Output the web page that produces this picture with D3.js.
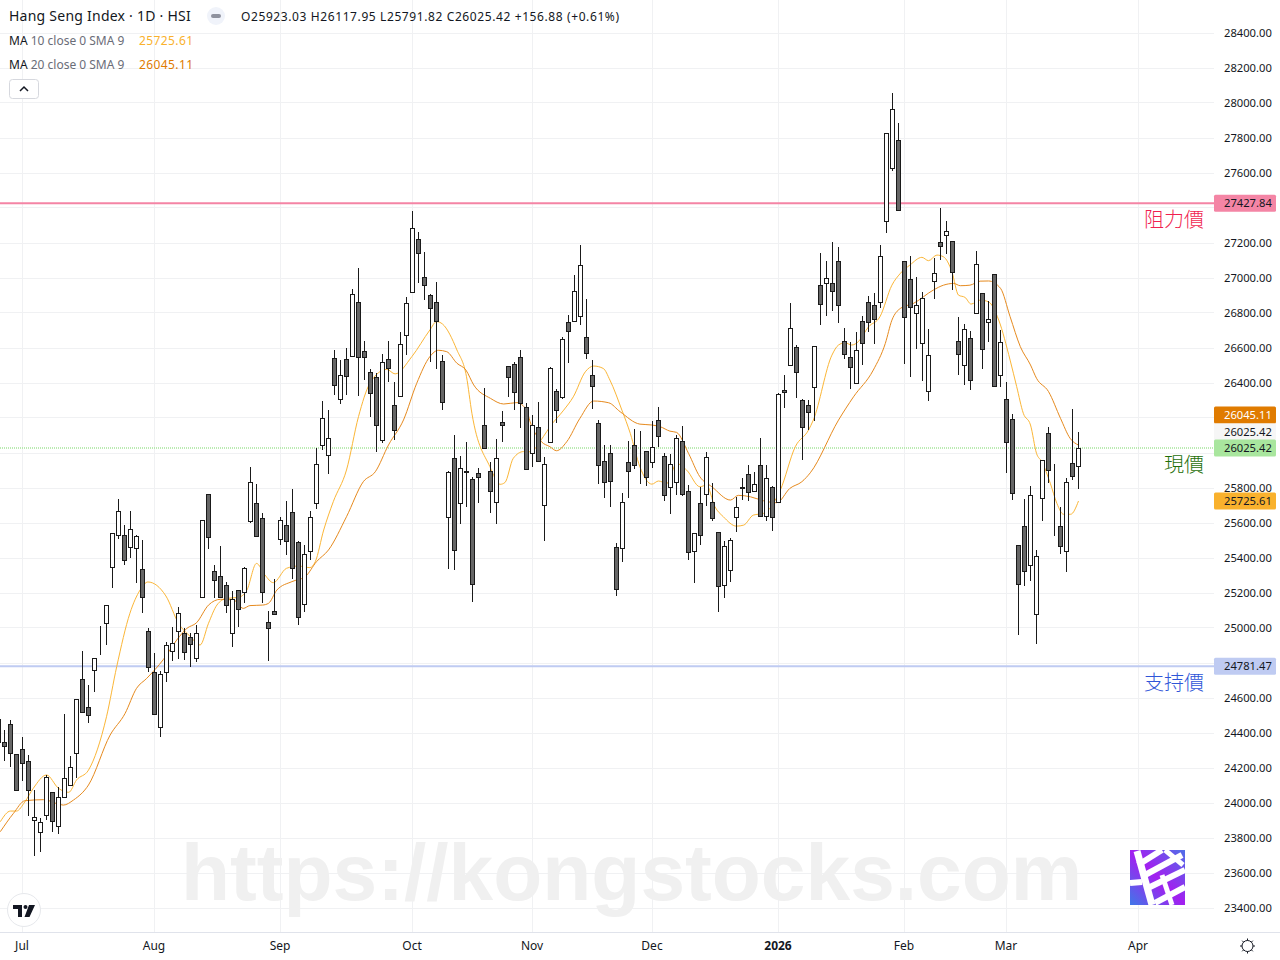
<!DOCTYPE html>
<html><head><meta charset="utf-8">
<script src="https://cdn.jsdelivr.net/npm/d3@7/dist/d3.min.js"></script>
<style>
html,body{margin:0;padding:0;background:#fff;}
svg{display:block;}
text{font-family:"Noto Sans",sans-serif;}
</style></head><body>
<svg id="c" width="1280" height="960"></svg>
<script>
const opens=[24478,24346,24447,24276,24305,24236,23901,23832,23927,24059,23866,24032,24101,24284,24705,24545,24758,24990,25027,25347,25529,25528,25461,25455,25333,24979,24745,24432,24747,24867,24981,24967,24945,24827,25175,25762,25322,25293,25242,24969,25213,25204,25609,25710,25625,25030,25095,
25507,25587,25659,25488,25135,25438,25712,26044,25987,26539,26307,26533,26554,26859,26579,26459,26431,26072,26535,26273,26324,26673,26918,27221,27004,26901,26859,26522,25632,25968,25712,25888,25848,25882,26156,25893,25718,26175,26494,26505,26545,26259,25998,26145,
25700,26062,26350,26318,26744,26752,26781,26661,26441,26167,25950,25996,25460,25455,25944,26041,25948,26007,25946,26184,25979,25803,25832,26064,25779,25438,25710,25763,25716,25544,25243,25329,25632,25803,25876,25779,25927,25638,25803,25718,26356,26501,26603,26301,26270,
26375,26958,26969,26969,27093,26636,26544,26397,26750,26858,26841,26860,27323,27626,27784,27093,26990,26797,26626,26352,26980,27201,27243,27207,26636,26500,26655,26797,26912,26746,27018,
26444,26305,26192,25470,25579,25358,25078,25741,26110,25716,25579,25438,25939,25923.03];
const highs=[24480,24417,24474,24276,24375,24272,24074,23912,24160,24061,24089,24506,24266,24592,24867,24672,24825,25009,25129,25541,25735,25587,25667,25529,25503,24998,24855,24752,24922,25004,25118,24998,24969,25015,25613,25764,25358,25467,25261,25209,25213,25347,25918,25821,25655,25095,25278,
25636,25724,25792,25495,25472,25667,26027,26295,26244,26587,26530,26598,26935,27055,26638,26478,26455,26564,26638,26404,26690,26890,27381,27261,27147,26907,26975,26560,25897,26101,25981,26061,25861,25912,26370,25947,26078,26238,26494,26518,26587,26284,26215,26290,
25979,26489,26367,26664,26786,27015,27188,26878,26529,26186,26043,26043,25483,25769,26066,26135,26123,26007,26181,26261,25998,25992,26101,26152,25820,25539,25807,26003,25826,25544,25495,25512,25750,25860,25929,25889,26083,25929,25809,26344,26443,26855,26615,26306,26301,
26609,27142,27095,27203,27175,26712,26637,26689,26780,26895,26912,27186,27826,28055,27883,27100,27123,27003,26918,26706,27112,27398,27323,27213,26775,26735,26695,27152,26912,26866,27020,
26701,26404,26223,25470,25735,25809,25444,25956,26147,25935,25693,25855,26250,26117.95];
const lows=[24322,24242,24204,24074,24127,23925,23699,23722,23903,23832,23824,24030,24101,24145,24518,24455,24636,24847,24905,25230,25507,25362,25402,25259,25088,24750,24505,24379,24693,24813,24825,24817,24779,24807,25175,25453,25173,25173,25088,24893,25008,25145,25598,25524,25145,24813,25072,
25476,25417,25278,25017,25093,25389,25682,26017,25882,26332,26280,26332,26547,26326,26417,26208,26008,26059,26408,26074,26322,26562,26918,26974,26874,26520,26482,26246,25339,25331,25596,25693,25150,25716,26021,25659,25596,26065,26322,26246,26145,25907,25920,25951,
25499,26062,26173,26306,26516,26748,26733,26539,26253,25824,25744,25693,25184,25375,25744,25910,25824,25811,25916,26036,25727,25653,25761,25756,25390,25258,25474,25699,25613,25091,25173,25264,25550,25731,25727,25779,25638,25613,25556,25716,26259,26499,26316,25960,26131,
26184,26733,26784,26813,26744,26538,26367,26397,26504,26693,26624,26828,27258,27613,27386,26508,26436,26596,26413,26298,26881,27102,27137,26931,26447,26386,26361,26797,26481,26636,26380,
26379,25888,25733,24962,25242,25270,24910,25613,25827,25528,25425,25322,25848,25791.82];
const closes=[24345,24324,24284,24074,24223,24074,23916,23887,24148,23895,24030,24139,24202,24592,24518,24499,24825,24994,25127,25539,25667,25387,25564,25522,25175,24775,24506,24733,24899,24910,25082,24861,24907,24967,25613,25518,25272,25175,25126,25164,25107,25339,25830,25524,25204,24998,25078,
25615,25495,25341,25059,25419,25632,25935,26198,26082,26387,26442,26438,26905,26547,26547,26341,26158,26516,26484,26130,26619,26854,27282,27141,26956,26827,26753,26290,25890,25444,25912,25892,25250,25861,26027,25781,25968,26156,26433,26347,26284,25907,26156,25953,
25933,26483,26243,26649,26695,26923,27072,26569,26381,25929,25832,25838,25220,25716,25895,25929,25944,25860,26030,26095,25758,25933,26081,25763,25432,25539,25529,25973,25626,25238,25464,25499,25687,25796,25775,25819,25638,25853,25632,26335,26346,26710,26461,26146,26232,
26609,26849,26996,26923,26843,26563,26489,26586,26626,26746,26763,27121,27826,27963,27386,26775,26832,26841,26883,26556,27026,27180,27264,27032,26563,26706,26415,27078,26592,26763,26380,
26631,26061,25769,25249,25324,25756,25408,25956,25901,25720,25467,25830,25867,26025.42];

const ma10Bars=[0.3,2,3,4.4,5.8,8,10,11.7,13,15,18,19.7,21.9,23.6,24.9,27.9,30,32,33.6,35,36.4,38,40,41.4,43,44.4,45.8,48,50,51.9,52.8,54.2,55.8,58,60,61.9,64.7,66.1,68.9,71.9,73,74,76.4,78,78.9,81.9,83.6,84.4,85.8,87.5,88.6,90.8,91.9,94.2,95.8,97.8,99.2,100.8,101.9,103.9,105.3,106.9,108.9,110,111.4,113,114.7,116.9,118,119.4,120.8,123,124.2,125.8,127.5,130.3,132.8,135,135.8,138.9,140,141.1,142.2,143.3,145,146.9,148.9,150.3,151.9,153.9,155,156.4,157.5,158.9,160,161.1,162.1,163.6,165,166.7,168.6,169.7,170.8,172,173,173.9,175.3,176.4,177.5,178.7,180];
const ma10Values=[23893,23954,23954,24007,24084,24160,24084,24061,24131,24188,24493,24779,25084,25217,25263,25183,25027,24950,24903,25027,25131,25169,25175,25217,25369,25303,25259,25341,25354,25345,25379,25560,25722,25903,26208,26398,26478,26452,26551,26703,26751,26737,26589,26436,26227,25922,25821,25831,25970,26008,26007,26093,26150,26245,26321,26464,26497,26483,26417,26245,26112,25921,25822,25840,25826,25940,25902,25807,25817,25693,25636,25582,25588,25645,25655,25788,26036,26131,26188,26559,26617,26630,26617,26636,26721,26778,26959,27026,27074,27118,27099,27131,27121,27036,26902,26889,26851,26874,26864,26760,26531,26379,26227,26160,25998,25950,25827,25712,25650,25650,25725.61];
const ma20Bars=[0.3,2.5,4.4,7.5,10.8,12.5,15,18.6,21.1,23,24.7,27.5,29.7,31.4,33,35,37,39.2,40.8,41.9,44,45,46.4,48.9,51.1,53,55,58,60.8,62.8,65,67.5,69.7,71.9,73.3,74.7,76.4,77.9,79.2,82,84.2,86.4,88,88.6,90.5,91.9,93,94.7,96.9,99.2,101.7,103.6,106.9,108.9,110.3,111.9,113,115,116.9,118.9,122,123.3,125.3,127.5,129.7,131.9,133.9,135.3,140,142.5,145.8,147.8,148.9,150.3,152.5,155.8,157.5,159.2,160.3,161.9,163.6,165,167,168.6,170.3,172,173,175,177,178.6,180];
const ma20Values=[23836,23941,24013,24019,23988,24017,24103,24388,24512,24655,24712,24821,24931,24998,25030,25131,25164,25160,25112,25128,25131,25141,25217,25265,25293,25379,25446,25636,25836,25893,26046,26189,26398,26551,26587,26579,26513,26474,26389,26312,26280,26288,26246,26179,26064,26036,26013,26064,26198,26297,26287,26236,26165,26160,26150,26125,26118,25998,25864,25807,25731,25758,25750,25727,25716,25798,25836,25887,26188,26321,26474,26626,26759,26826,26855,26931,26959,26969,26956,26959,26982,26983,26941,26779,26608,26503,26427,26351,26198,26084,26045.11];

const priceTicks=d3.range(23400,28401,200);
const hiddenPriceLabels=[27400,26200,26000,24800];
const monthBars=[4,26,47,69,89,109,130,151,168,190];
const monthLabels=["Jul","Aug","Sep","Oct","Nov","Dec","2026","Feb","Mar","Apr"];
const resistance=27427.84, support=24781.47, lastPrice=26025.42, ma10Last=25725.61, ma20Last=26045.11;

const W=1280,H=960,paneR=1214,paneB=932;
const x=d3.scaleLinear().domain([0,180]).range([-1.5,1078.5]);
const y=d3.scaleLinear().domain([23400,28400]).range([908,33]);
const snap=v=>Math.floor(v)+0.5;
const svg=d3.select("#c");
const pane=svg.append("g");

// grid
pane.append("g").selectAll("line").data(priceTicks).join("line")
 .attr("x1",0).attr("x2",paneR).attr("y1",d=>snap(y(d))).attr("y2",d=>snap(y(d))).attr("stroke","#f0f1f3");
pane.append("g").selectAll("line").data(monthBars).join("line")
 .attr("x1",d=>x(d)).attr("x2",d=>x(d)).attr("y1",0).attr("y2",paneB).attr("stroke","#f0f1f3");

// watermark
svg.append("text").attr("x",181).attr("y",900).text("https://kongstocks.com")
 .attr("fill","#f0f0f0").style("font-family","'Liberation Sans'").style("font-weight",700).style("font-size","80.3px");

// logo
const defs=svg.append("defs");
const g=defs.append("linearGradient").attr("id","lg").attr("x1","0").attr("y1","1").attr("x2","1").attr("y2","0");
g.append("stop").attr("offset","0").attr("stop-color","#3f78e8");
g.append("stop").attr("offset","0.5").attr("stop-color","#a31ff0");
g.append("stop").attr("offset","1").attr("stop-color","#4f6fe8");
defs.append("clipPath").attr("id","lc").append("rect").attr("x",1130).attr("y",850).attr("width",55).attr("height",55);
const lg=svg.append("g").attr("clip-path","url(#lc)");
lg.append("rect").attr("x",1130).attr("y",850).attr("width",55).attr("height",55).attr("fill","url(#lg)");
[["M1138 865L1162 850",6],["M1145 875L1182 855",6],["M1148 888L1185 870",6],["M1155 903L1185 887",6],["M1137 851L1152 905",7],["M1165 850L1183 865",5],["M1130 883L1142 882",6],["M1162 875L1172 905",5]]
 .forEach(([d,w])=>lg.append("path").attr("d",d).attr("stroke","#fff").attr("stroke-width",w).attr("fill","none"));

// horizontal levels
const hl=svg.append("g");
hl.append("line").attr("x1",0).attr("x2",paneR).attr("y1",y(resistance)).attr("y2",y(resistance)).attr("stroke","#f484a5").attr("stroke-width",2);
hl.append("line").attr("x1",0).attr("x2",paneR).attr("y1",y(support)).attr("y2",y(support)).attr("stroke","#bfcbf2").attr("stroke-width",2);
hl.append("line").attr("x1",0).attr("x2",paneR).attr("y1",448).attr("y2",448).attr("stroke","#a5e59b").attr("stroke-width",1.5).attr("stroke-dasharray","1 1");

// moving averages
const mk=(bars,vals)=>d3.line().x((d,i)=>x(bars[i])).y(d=>y(d)).curve(d3.curveMonotoneX)(vals);
svg.append("path").attr("d",mk(ma10Bars,ma10Values)).attr("fill","none").attr("stroke","#fbb637").attr("stroke-width",1);
svg.append("path").attr("d",mk(ma20Bars,ma20Values)).attr("fill","none").attr("stroke","#e68a1e").attr("stroke-width",1);

// candles
const bars=d3.range(opens.length);
const cg=svg.append("g");
cg.selectAll("line").data(bars).join("line")
 .attr("x1",i=>x(i)).attr("x2",i=>x(i)).attr("y1",i=>Math.round(y(highs[i]))).attr("y2",i=>Math.round(y(lows[i])))
 .attr("stroke","#1a1a1a").attr("stroke-width",1);
cg.selectAll("rect").data(bars).join("rect")
 .attr("x",i=>x(i)-2).attr("width",4)
 .attr("y",i=>snap(y(Math.max(opens[i],closes[i]))))
 .attr("height",i=>Math.max(0,snap(y(Math.min(opens[i],closes[i])))-snap(y(Math.max(opens[i],closes[i])))))
 .attr("fill",i=>closes[i]>=opens[i]?"#ffffff":"#666666")
 .attr("stroke","#1a1a1a").attr("stroke-width",1);

// level names
const names=[["阻力價",resistance,24,"#f01f50"],["現價",lastPrice,24,"#1f700a"],["支持價",support,24,"#2f55d8"]];
svg.append("g").selectAll("text").data(names).join("text")
 .attr("x",1204).attr("y",d=>(d[1]===lastPrice?448:y(d[1]))+d[2]).attr("text-anchor","end").text(d=>d[0])
 .attr("fill",d=>d[3]).style("font-family","'Noto Sans CJK TC'").style("font-weight",300).style("font-size","20px");

// price axis
const axisFont="'Noto Sans',sans-serif";
const ya=svg.append("g").attr("transform",`translate(${paneR},0)`)
 .call(d3.axisRight(y).tickValues(priceTicks.filter(d=>!hiddenPriceLabels.includes(d))).tickSize(0).tickPadding(10).offset(0).tickFormat(d3.format(".2f")));
ya.select(".domain").remove();
ya.selectAll("text").attr("fill","#131722").style("font-size","11.2px").style("font-family",axisFont);

// price labels
const tags=[[resistance,0,"#f485a5","#131722"],[ma20Last,-30,"#e07b00","#ffffff"],[lastPrice,-16.5,"#f6f6f6","#131722"],[lastPrice,0,"#a9e69e","#131722"],[ma10Last,0,"#f9b12d","#131722"],[support,0,"#bfcbf2","#131722"]];
const tg=svg.append("g").selectAll("g").data(tags).join("g")
 .attr("transform",(d,i)=>`translate(1214,${(d[0]===lastPrice&&d[1]===0?448:y(d[0]))+d[1]})`);
tg.append("rect").attr("x",0).attr("y",-8.5).attr("width",62).attr("height",17).attr("rx",1.5).attr("fill",d=>d[2]);
tg.append("text").attr("x",10).attr("y",0).attr("dy","0.35em").text(d=>d[0].toFixed(2)).attr("fill",d=>d[3]).style("font-size","11.2px");

// time axis
svg.append("line").attr("x1",0).attr("x2",W).attr("y1",932.5).attr("y2",932.5).attr("stroke","#e0e3eb");
const xa=svg.append("g").attr("transform",`translate(0,${paneB})`)
 .call(d3.axisBottom(x).tickValues(monthBars).tickSize(0).tickPadding(9).offset(-0.5).tickFormat((d,i)=>monthLabels[i]));
xa.select(".domain").remove();
xa.selectAll("text").attr("fill","#131722").style("font-size","12px").style("font-family",axisFont)
 .style("font-weight",d=>d===130?700:400);

// header
const hdr=svg.append("g");
hdr.append("text").attr("x",9).attr("y",21).text("Hang Seng Index · 1D · HSI").attr("fill","#131722").style("font-size","14px").style("letter-spacing","0.24px");
hdr.append("circle").attr("cx",216).attr("cy",16).attr("r",9).attr("fill","#f0f3fa");
hdr.append("rect").attr("x",211).attr("y",14).attr("width",10).attr("height",4).attr("rx",2).attr("fill","#8f929e");
hdr.append("text").attr("x",241).attr("y",21).text("O25923.03 H26117.95 L25791.82 C26025.42 +156.88 (+0.61%)").attr("fill","#131722").style("font-size","12px").style("letter-spacing","0.6px");
const rows=[["10",ma10Last,45,"#f9b12d"],["20",ma20Last,69,"#e07b00"]];
rows.forEach(r=>{
 const t=hdr.append("text").attr("x",9).attr("y",r[2]).style("font-size","12px");
 t.append("tspan").text("MA").attr("fill","#131722");
 t.append("tspan").text(` ${r[0]} close 0 SMA 9`).attr("fill","#6a6d78");
 hdr.append("text").attr("x",139).attr("y",r[2]).text(r[1].toFixed(2)).attr("fill",r[3]).style("font-size","12px").style("letter-spacing","0.4px");
});
hdr.append("rect").attr("x",9.5).attr("y",79.5).attr("width",29).attr("height",19).attr("rx",3).attr("fill","#fff").attr("stroke","#d6d8de");
hdr.append("path").attr("d","M20 91L24 87L28 91").attr("fill","none").attr("stroke","#131722").attr("stroke-width",1.5);

// tv badge
const tv=svg.append("g");
tv.append("circle").attr("cx",24).attr("cy",910).attr("r",16.5).attr("fill","#fff").attr("stroke","#e6e8ec");
tv.append("path").attr("d","M13 905H22V917H18V909H13Z M29 905L35 905L29.5 917L24.5 917Z").attr("fill","#131722");
tv.append("circle").attr("cx",25.5).attr("cy",907).attr("r",2).attr("fill","#131722");

// gear
const gear=svg.append("g").attr("transform","translate(1247.5,946)").attr("fill","none").attr("stroke","#131722");
gear.append("circle").attr("r",5.5);
d3.range(8).forEach(k=>{const a=k*Math.PI/4;gear.append("line").attr("x1",5.5*Math.cos(a)).attr("y1",5.5*Math.sin(a)).attr("x2",7.5*Math.cos(a)).attr("y2",7.5*Math.sin(a));});
</script>
</body></html>
